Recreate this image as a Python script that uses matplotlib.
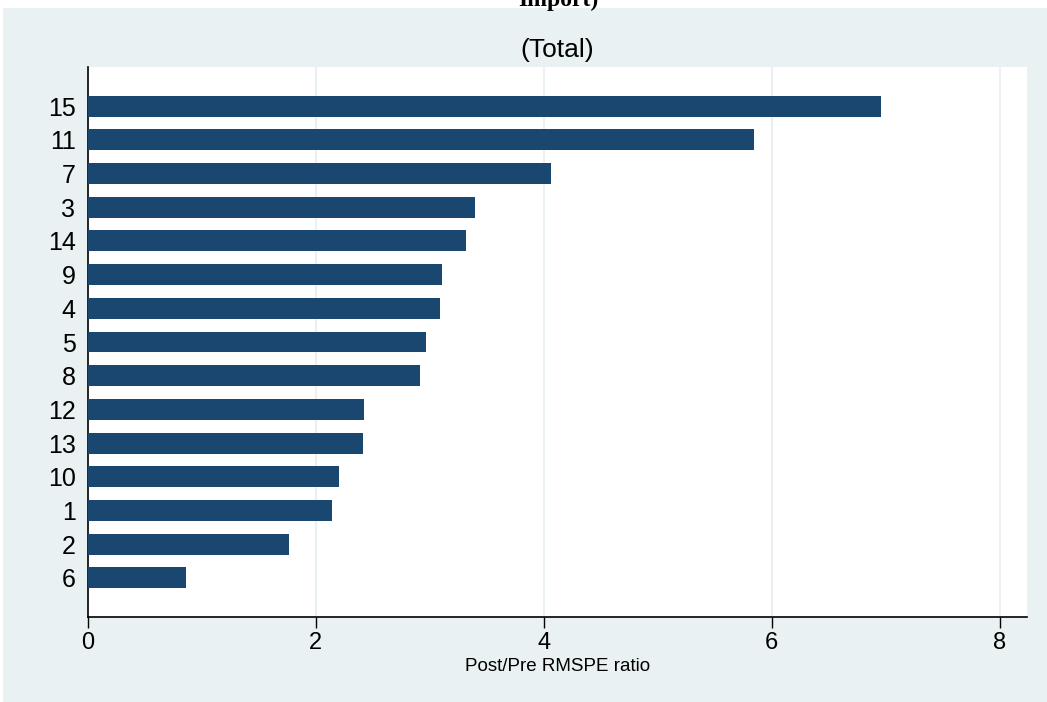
import matplotlib
matplotlib.use('Agg')
import matplotlib.pyplot as plt
from matplotlib.patches import Rectangle

# units ordered as shown from top to bottom
units = ['15', '11', '7', '3', '14', '9', '4', '5', '8', '12', '13', '10', '1', '2', '6']
ratios = [6.96, 5.84, 4.06, 3.40, 3.32, 3.11, 3.09, 2.97, 2.91, 2.42, 2.41, 2.20, 2.14, 1.76, 0.86]
xticks = [0, 2, 4, 6, 8]

plt.rcParams['font.family'] = ['Liberation Sans', 'DejaVu Sans']

bar_color = '#1a476f'
panel_color = '#e9f1f3'

fig = plt.figure(figsize=(10.47, 7.02), dpi=100)
fig.patch.set_facecolor('white')
fig.patches.append(Rectangle((3 / 1047, 0), 1 - 3 / 1047, 1 - 8 / 702,
                             transform=fig.transFigure, facecolor=panel_color,
                             edgecolor='none', zorder=-10))

ax = fig.add_axes([88 / 1047, 1 - 617 / 702, (1027 - 88) / 1047, (617 - 67) / 702])
ax.set_zorder(1)
ax.set_facecolor('white')

pos = list(range(len(units)))
ax.barh(pos, ratios, height=0.62, color=bar_color, zorder=3)

ax.set_yticks(pos)
ax.set_yticklabels(units, fontsize=18)
ax.set_ylim(len(units) - 1 + 1.16, -1.16)
ax.set_xlim(0, 8.24)
ax.set_xticks(xticks)
ax.set_xticklabels([str(t) for t in xticks], fontsize=17)
ax.tick_params(axis='y', length=0, pad=9)
ax.tick_params(axis='x', length=8, width=1, pad=3)

for t in xticks[1:]:
    ax.axvline(t, color=panel_color, lw=1.5, zorder=1)

for s in ['top', 'right']:
    ax.spines[s].set_visible(False)
ax.spines['left'].set_linewidth(1.2)
ax.spines['bottom'].set_linewidth(1.2)

ax.set_xlabel('Post/Pre RMSPE ratio', fontsize=13.5, labelpad=3)
ax.set_title('(Total)', fontsize=19, pad=7)

fig.text(0.533, 1 - 6 / 702, 'Import)', family='Liberation Serif', fontweight='bold',
         fontsize=17, ha='center', va='baseline')

fig.savefig('out.png', dpi=100)
